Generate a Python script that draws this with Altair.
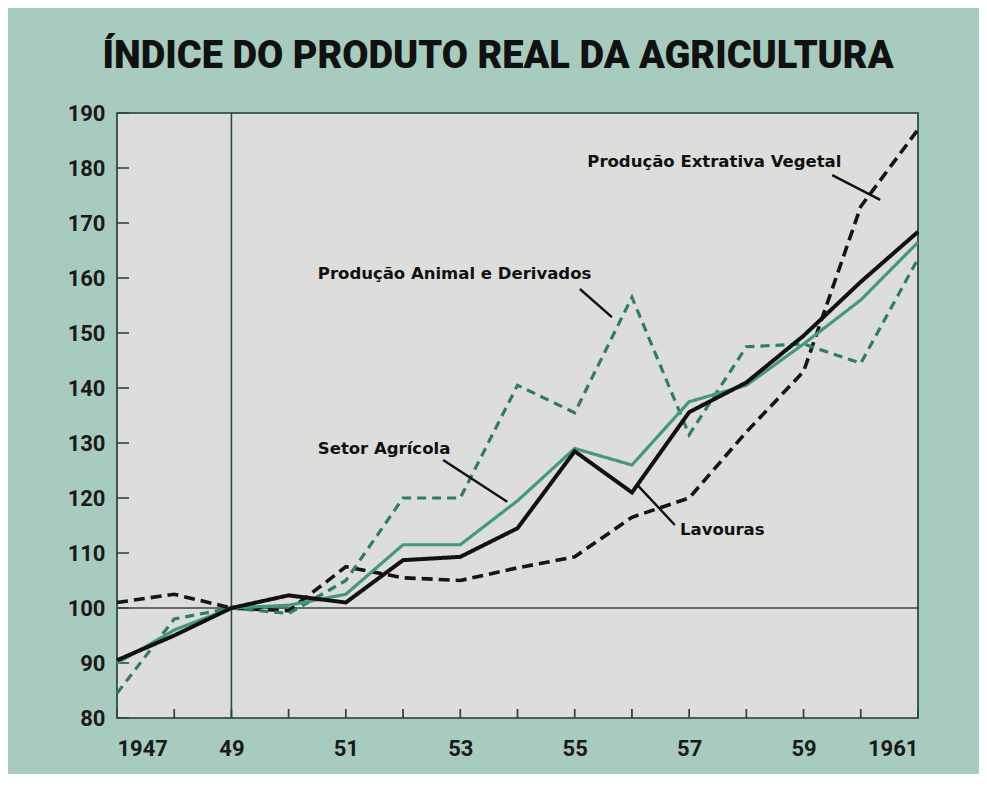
import altair as alt
import pandas as pd

years = list(range(1947, 1962))
setor = [90, 96, 100, 100.5, 102.5, 111.5, 111.5, 119.5, 129, 126, 137.5, 140.5, 148, 156, 166.5]
lavouras = [90.5, 95, 100, 102.3, 101, 108.7, 109.3, 114.5, 128.5, 121, 135.6, 141, 149.5, 159.3, 168.4]
animal = [84.5, 98, 100, 99, 105, 120, 120, 140.5, 135.5, 156.5, 131.5, 147.5, 148, 144.5, 163.5]
extrativa = [101, 102.5, 100, 99.5, 107.5, 105.5, 105, 107.3, 109.3, 116.5, 120, 132, 143, 173, 187]

series_names = ["Produção Extrativa Vegetal", "Produção Animal e Derivados", "Setor Agrícola", "Lavouras"]
series_values = [extrativa, animal, setor, lavouras]
series_colors = ["#151515", "#2f7d66", "#46977f", "#111111"]
series_dash = [[11, 6], [9, 6], [1, 0], [1, 0]]
series_width = [3.6, 3.2, 3.2, 4.0]

y_ticks = list(range(80, 191, 10))
x_label_years = [1947, 1949, 1951, 1953, 1955, 1957, 1959, 1961]

title_text = "ÍNDICE DO PRODUTO REAL DA AGRICULTURA"

# annotation labels and leader lines (data space)
label_text = ["Produção Extrativa Vegetal", "Produção Animal e Derivados", "Setor Agrícola", "Lavouras"]
label_x = [1955.22, 1950.51, 1950.51, 1956.84]
label_y = [181.1, 160.7, 128.9, 114.2]
leader_x1 = [1959.50, 1955.09, 1952.70, 1956.11]
leader_y1 = [178.7, 158.0, 126.9, 122.2]
leader_x2 = [1960.34, 1955.65, 1953.82, 1956.75]
leader_y2 = [174.2, 152.9, 119.3, 115.1]

W, H = 801, 605
xs = alt.Scale(domain=[1947, 1961], nice=False, zero=False)
ys = alt.Scale(domain=[80, 190], nice=False, zero=False)

x_axis = alt.Axis(values=x_label_years, labelExpr="datum.value == 1947 || datum.value == 1961 ? datum.value : slice(toString(datum.value), 2)",
                  title=None, grid=False, tickSize=0, domain=False, labelPadding=20,
                  labelFont="Roboto", labelFontWeight="bold", labelFontSize=22, labelColor="#1a1a1a")
y_axis = alt.Axis(values=y_ticks, title=None, grid=False, tickSize=0, domain=False, labelPadding=12,
                  labelFont="Roboto", labelFontWeight="bold", labelFontSize=22, labelColor="#1a1a1a")

layers = []

# reference lines
layers.append(alt.Chart(pd.DataFrame({"y": [100]})).mark_rule(color="#2e4a42", strokeWidth=1.6).encode(
    y=alt.Y("y:Q", scale=ys, axis=y_axis)))
layers.append(alt.Chart(pd.DataFrame({"x": [1949]})).mark_rule(color="#2e4a42", strokeWidth=1.6).encode(
    x=alt.X("x:Q", scale=xs, axis=x_axis)))

# inward ticks
layers.append(alt.Chart(pd.DataFrame({"y": y_ticks})).mark_rule(color="#2e4a42", strokeWidth=1.6).encode(
    y=alt.Y("y:Q", scale=ys), x=alt.value(0), x2=alt.value(12)))
layers.append(alt.Chart(pd.DataFrame({"x": years})).mark_rule(color="#2e4a42", strokeWidth=1.8).encode(
    x=alt.X("x:Q", scale=xs), y=alt.value(H), y2=alt.value(H - 9)))

for name, vals, col, dash, w in zip(series_names, series_values, series_colors, series_dash, series_width):
    df = pd.DataFrame({"year": years, "value": vals, "serie": name})
    layers.append(alt.Chart(df).mark_line(color=col, strokeDash=dash, strokeWidth=w, strokeJoin="miter").encode(
        x=alt.X("year:Q", scale=xs), y=alt.Y("value:Q", scale=ys)))

lead = pd.DataFrame({"x": leader_x1, "y": leader_y1, "x2": leader_x2, "y2": leader_y2})
layers.append(alt.Chart(lead).mark_rule(color="#111111", strokeWidth=2.4).encode(
    x=alt.X("x:Q", scale=xs), y=alt.Y("y:Q", scale=ys), x2="x2:Q", y2="y2:Q"))

lab = pd.DataFrame({"x": label_x, "y": label_y, "t": label_text})
layers.append(alt.Chart(lab).mark_text(align="left", baseline="middle", font="DejaVu Sans", fontWeight="bold",
                                       fontSize=16.5, color="#111111").encode(
    x=alt.X("x:Q", scale=xs), y=alt.Y("y:Q", scale=ys), text="t:N"))

# title
layers.append(alt.Chart(pd.DataFrame({"t": [title_text]})).mark_text(
    align="center", baseline="alphabetic", font="Roboto", fontWeight=900, fontSize=38, color="#111111").encode(
    x=alt.value(381), y=alt.value(-45), text="t:N"))

chart = alt.layer(*layers).properties(
    width=W, height=H,
    padding={"left": 109, "top": 105, "right": 61, "bottom": 56},
    autosize=alt.AutoSizeParams(type="none"),
    background="#a8cbc0",
).configure_view(fill="#dddddb", stroke="#1f3a33", strokeWidth=1.6)

chart.save("out.html", embed_options={"renderer": "svg", "actions": False})
